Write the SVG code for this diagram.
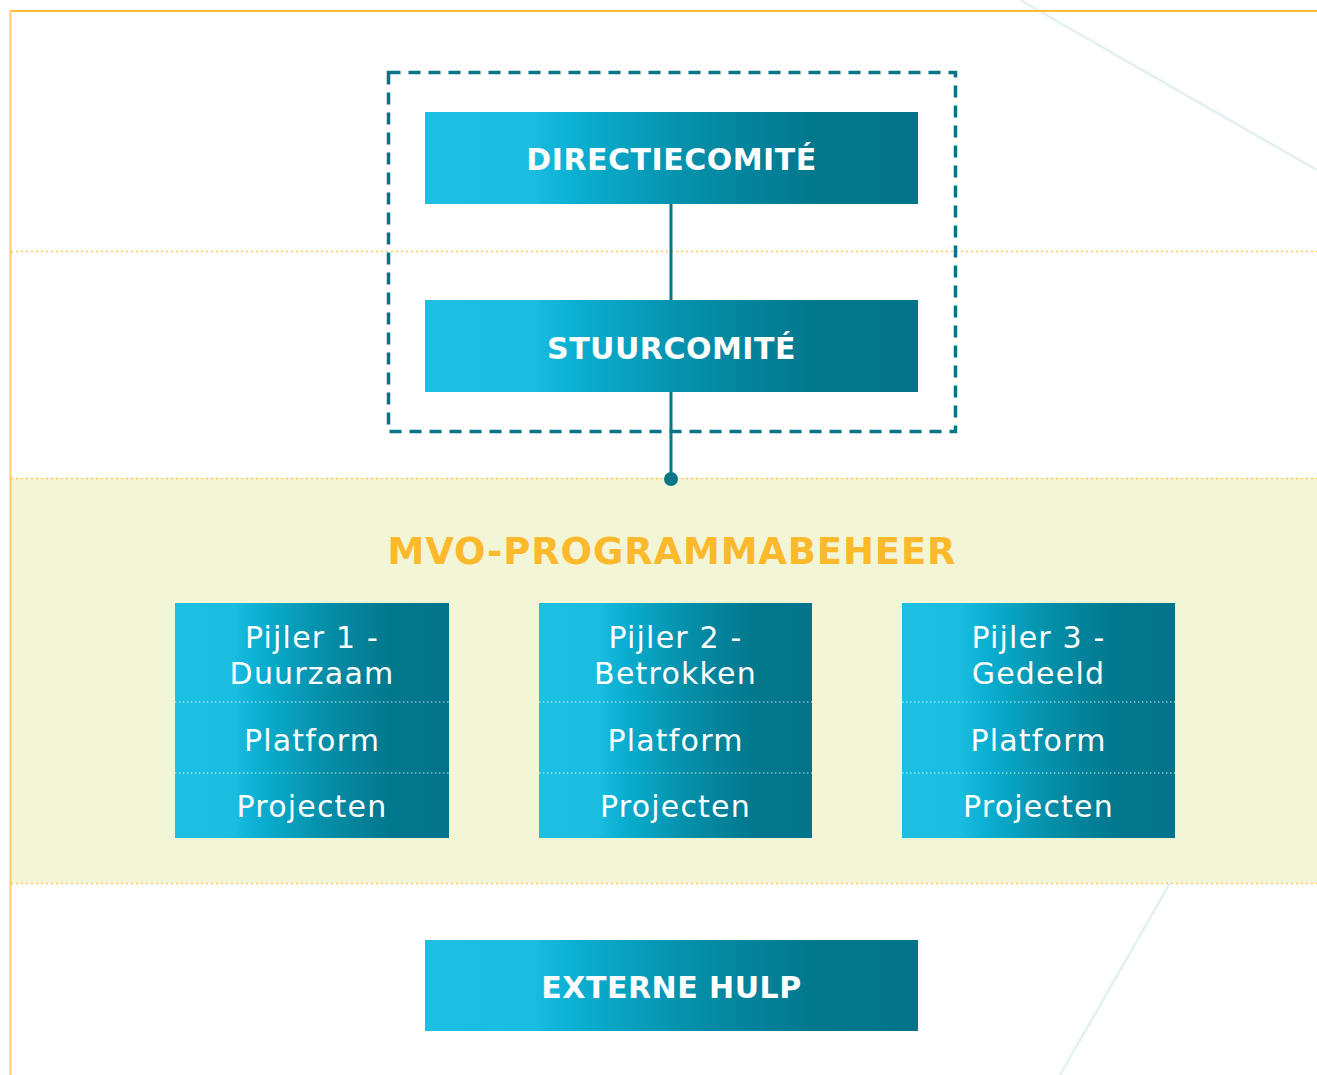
<svg xmlns="http://www.w3.org/2000/svg" width="1317" height="1075" viewBox="0 0 1317 1075">
<defs>
<linearGradient id="g" x1="0" y1="0" x2="1" y2="0">
<stop offset="0" stop-color="#1DC0E2"/>
<stop offset="0.22" stop-color="#1ABCDF"/>
<stop offset="0.3" stop-color="#0AB0D2"/>
<stop offset="0.55" stop-color="#058EA8"/>
<stop offset="0.78" stop-color="#02788D"/>
<stop offset="1" stop-color="#03748A"/>
</linearGradient>
<style>
.box{fill:url(#g)}
.t{font-family:"DejaVu Sans","Liberation Sans",sans-serif;fill:#ffffff;text-anchor:middle}
.head{font-size:30px;font-weight:bold;letter-spacing:0.5px}
.pil{font-size:30px;letter-spacing:1.2px}
.sep{stroke:#ffffff;stroke-width:1;stroke-dasharray:1.5 2.5;opacity:0.8}
.conn{stroke:#0A7587;stroke-width:3;fill:none}
.dot{stroke:#FDC858;stroke-width:1.5;stroke-dasharray:2 3;fill:none}
</style>
</defs>
<rect width="1317" height="1075" fill="#ffffff"/>
<g id="background">
<rect x="10" y="478" width="1307" height="405" fill="#F2F5D6"/>
<line x1="1020" y1="0" x2="1317" y2="170" stroke="#E3F0F2" stroke-width="2.5"/>
<line x1="1170" y1="883" x2="1060" y2="1075" stroke="#E3F0F2" stroke-width="2.5"/>
<line x1="10" y1="11" x2="1317" y2="11" stroke="#FDBD33" stroke-width="2"/>
<line x1="10.5" y1="10" x2="10.5" y2="1075" stroke="#FDCB6A" stroke-width="2"/>
<line class="dot" x1="11" y1="251.5" x2="1317" y2="251.5"/>
<line class="dot" x1="11" y1="478.5" x2="1317" y2="478.5"/>
<line class="dot" x1="11" y1="883.5" x2="1317" y2="883.5"/>
</g>
<g id="connectors">
<rect x="388.5" y="72.5" width="567" height="359" fill="none" stroke="#0A7587" stroke-width="3.5" stroke-dasharray="12 8"/>
<line class="conn" x1="671" y1="204" x2="671" y2="300"/>
<line class="conn" x1="671" y1="392" x2="671" y2="478"/>
<circle cx="671" cy="479" r="7" fill="#0A7587"/>
</g>
<g id="directiecomite">
<rect class="box" x="425" y="112" width="493" height="92"/>
<text class="t head" x="671.5" y="170">DIRECTIECOMITÉ</text>
</g>
<g id="stuurcomite">
<rect class="box" x="425" y="300" width="493" height="92"/>
<text class="t head" x="671.5" y="359">STUURCOMITÉ</text>
</g>
<g id="mvo">
<text x="672" y="564" font-family="DejaVu Sans, Liberation Sans, sans-serif" font-size="37" font-weight="bold" fill="#FBB92B" text-anchor="middle" letter-spacing="0.85">MVO-PROGRAMMABEHEER</text>
</g>
<g id="pijler1">
<rect class="box" x="175" y="603" width="274" height="235"/>
<line class="sep" x1="175" y1="702" x2="449" y2="702"/>
<line class="sep" x1="175" y1="773" x2="449" y2="773"/>
<text class="t pil" x="312" y="648">Pijler 1 -</text>
<text class="t pil" x="312" y="684">Duurzaam</text>
<text class="t pil" x="312" y="751">Platform</text>
<text class="t pil" x="312" y="817">Projecten</text>
</g>
<g id="pijler2">
<rect class="box" x="539" y="603" width="273" height="235"/>
<line class="sep" x1="539" y1="702" x2="812" y2="702"/>
<line class="sep" x1="539" y1="773" x2="812" y2="773"/>
<text class="t pil" x="675.5" y="648">Pijler 2 -</text>
<text class="t pil" x="675.5" y="684">Betrokken</text>
<text class="t pil" x="675.5" y="751">Platform</text>
<text class="t pil" x="675.5" y="817">Projecten</text>
</g>
<g id="pijler3">
<rect class="box" x="902" y="603" width="273" height="235"/>
<line class="sep" x1="902" y1="702" x2="1175" y2="702"/>
<line class="sep" x1="902" y1="773" x2="1175" y2="773"/>
<text class="t pil" x="1038.5" y="648">Pijler 3 -</text>
<text class="t pil" x="1038.5" y="684">Gedeeld</text>
<text class="t pil" x="1038.5" y="751">Platform</text>
<text class="t pil" x="1038.5" y="817">Projecten</text>
</g>
<g id="externehulp">
<rect class="box" x="425" y="940" width="493" height="91"/>
<text class="t head" x="671.5" y="998">EXTERNE HULP</text>
</g>
</svg>
